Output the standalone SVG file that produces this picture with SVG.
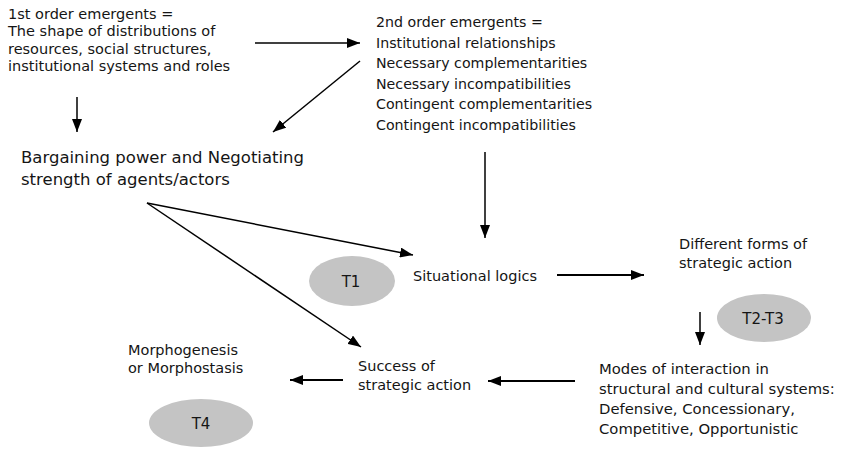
<svg xmlns="http://www.w3.org/2000/svg" width="841" height="456" viewBox="0 0 841 456">
  <style>
    text { font-family: "DejaVu Sans", "Liberation Sans", sans-serif; fill: #151515; }
    .t { font-size: 14.5px; }
    .t2 { font-size: 14.2px; }
    .tm { font-size: 14.8px; }
    .big { font-size: 16.5px; }
    .lab { font-size: 15px; text-anchor: middle; }
    .ell { fill: #c4c4c4; stroke: none; }
    .c { stroke: #000; stroke-width: 1.5; fill: none; marker-end: url(#ah); }
    .thick { stroke-width: 2.2; }
  </style>
  <defs>
    <marker id="ah" markerUnits="userSpaceOnUse" markerWidth="13" markerHeight="10" refX="13" refY="5" orient="auto">
      <path d="M0,0 L13,5 L0,10 z" fill="#000"/>
    </marker>
  </defs>
  <rect width="841" height="456" fill="#fff"/>

  <g id="connectors">
    <line class="c" x1="255" y1="43" x2="360" y2="43"/>
    <line class="c" x1="360" y1="61" x2="273" y2="132"/>
    <line class="c" x1="77" y1="97" x2="77" y2="132"/>
    <line class="c" x1="485" y1="152" x2="485" y2="238"/>
    <line class="c" x1="147" y1="203" x2="413" y2="255"/>
    <line class="c" x1="147" y1="203" x2="361" y2="347"/>
    <line class="c thick" x1="557" y1="275" x2="644" y2="275"/>
    <line class="c" x1="700" y1="312" x2="700" y2="345"/>
    <line class="c thick" x1="575" y1="381" x2="488" y2="381"/>
    <line class="c thick" x1="343" y1="380" x2="290" y2="380"/>
  </g>

  <g id="first-order">
    <text class="t" x="8" y="18.5">1st order emergents =</text>
    <text class="t" x="8" y="36">The shape of distributions of</text>
    <text class="t" x="8" y="53.5">resources, social structures,</text>
    <text class="t" x="8" y="71">institutional systems and roles</text>
  </g>

  <g id="second-order">
    <text class="t2" x="376" y="27">2nd order emergents =</text>
    <text class="t2" x="376" y="47.6">Institutional relationships</text>
    <text class="t2" x="376" y="68.2">Necessary complementarities</text>
    <text class="t2" x="376" y="88.8">Necessary incompatibilities</text>
    <text class="t2" x="376" y="109.4">Contingent complementarities</text>
    <text class="t2" x="376" y="130">Contingent incompatibilities</text>
  </g>

  <g id="bargaining">
    <text class="big" x="21" y="163">Bargaining power and Negotiating</text>
    <text class="big" x="21" y="185">strength of agents/actors</text>
  </g>

  <g id="t1">
    <ellipse class="ell" cx="352" cy="281" rx="43" ry="25"/>
    <text class="lab" x="351" y="286.5">T1</text>
  </g>

  <g id="situational">
    <text class="t" x="413" y="281">Situational logics</text>
  </g>

  <g id="different-forms">
    <text class="t" x="679" y="249">Different forms of</text>
    <text class="t" x="679" y="268">strategic action</text>
  </g>

  <g id="t2-t3">
    <ellipse class="ell" cx="764" cy="318" rx="47" ry="24"/>
    <text class="lab" x="763" y="323.5">T2-T3</text>
  </g>

  <g id="modes">
    <text class="tm" x="599" y="374">Modes of interaction in</text>
    <text class="tm" x="599" y="394">structural and cultural systems:</text>
    <text class="tm" x="599" y="414">Defensive, Concessionary,</text>
    <text class="tm" x="599" y="434">Competitive, Opportunistic</text>
  </g>

  <g id="success">
    <text class="t" x="358" y="371">Success of</text>
    <text class="t" x="358" y="390">strategic action</text>
  </g>

  <g id="morpho">
    <text class="t" x="128" y="355">Morphogenesis</text>
    <text class="t" x="128" y="373">or Morphostasis</text>
  </g>

  <g id="t4">
    <ellipse class="ell" cx="201" cy="423" rx="52" ry="24"/>
    <text class="lab" x="201" y="428.5">T4</text>
  </g>
</svg>
